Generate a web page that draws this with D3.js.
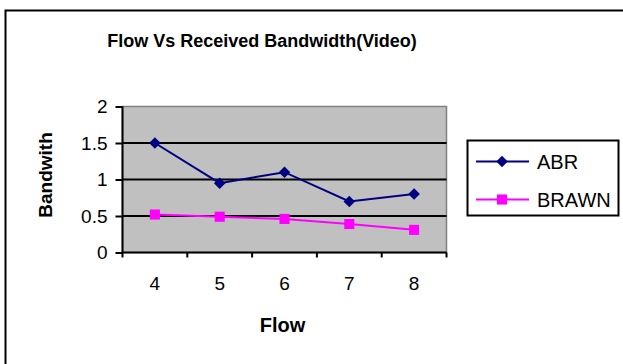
<!DOCTYPE html>
<html>
<head>
<meta charset="utf-8">
<script src="https://cdn.jsdelivr.net/npm/d3@7"></script>
<style>
  body { margin: 0; background: #fff; }
  text { font-family: "Liberation Sans", Arial, sans-serif; }
</style>
</head>
<body>
<div id="chart"></div>
<script>
// data
const flows = ["4", "5", "6", "7", "8"];
const abr = [1.5, 0.95, 1.1, 0.7, 0.8];
const brawn = [0.52, 0.49, 0.46, 0.39, 0.31];
const yTicks = [0, 0.5, 1, 1.5, 2];

const W = 623, H = 364;
const plot = {left: 122.5, top: 106.5, right: 446.5, bottom: 252.5};

const svg = d3.select("#chart").append("svg")
  .attr("width", W)
  .attr("height", H);

// outer chart border (right/bottom run off the picture)
svg.append("rect")
  .attr("x", 5.5).attr("y", 10.5)
  .attr("width", 700).attr("height", 400)
  .attr("fill", "#fff")
  .attr("stroke", "#000")
  .attr("stroke-width", 2);

svg.append("text")
  .attr("x", 262).attr("y", 47)
  .attr("text-anchor", "middle")
  .attr("font-size", 18).attr("font-weight", "bold")
  .text("Flow Vs Received Bandwidth(Video)");

const x = d3.scaleBand()
  .domain(flows)
  .range([plot.left, plot.right]);

const y = d3.scaleLinear()
  .domain([0, 2])
  .range([plot.bottom, plot.top]);

// plot area
svg.append("rect")
  .attr("x", plot.left).attr("y", plot.top)
  .attr("width", plot.right - plot.left)
  .attr("height", plot.bottom - plot.top)
  .attr("fill", "#c0c0c0")
  .attr("stroke", "#808080")
  .attr("stroke-width", 1.5);

// gridlines
svg.append("g")
  .selectAll("line")
  .data(yTicks.filter(d => d > 0 && d < 2))
  .join("line")
  .attr("x1", plot.left).attr("x2", plot.right)
  .attr("y1", d => y(d)).attr("y2", d => y(d))
  .attr("stroke", "#000")
  .attr("stroke-width", 2);

// y axis
const yAxis = svg.append("g")
  .attr("transform", "translate(" + plot.left + ",0)")
  .call(d3.axisLeft(y).tickValues(yTicks).tickSize(7).tickFormat(d3.format("")));
yAxis.select(".domain").attr("stroke", "#000").attr("stroke-width", 2).attr("d", "M0," + plot.top + "V" + plot.bottom);
yAxis.selectAll(".tick line").attr("stroke", "#000").attr("stroke-width", 2);
yAxis.selectAll(".tick text")
  .attr("font-size", 19).attr("font-family", "Liberation Sans, Arial, sans-serif")
  .attr("fill", "#000").attr("x", -15);

// x axis: ticks at band boundaries, labels at centers
const xAxis = svg.append("g")
  .attr("transform", "translate(0," + plot.bottom + ")");
xAxis.append("line")
  .attr("x1", plot.left).attr("x2", plot.right)
  .attr("stroke", "#000").attr("stroke-width", 2);
const bounds = flows.map(f => x(f)).concat([x(flows[flows.length - 1]) + x.bandwidth()]);
xAxis.selectAll(".xt")
  .data(bounds)
  .join("line")
  .attr("class", "xt")
  .attr("x1", d => d).attr("x2", d => d)
  .attr("y1", 0).attr("y2", 5)
  .attr("stroke", "#000").attr("stroke-width", 2);
xAxis.selectAll(".xl")
  .data(flows)
  .join("text")
  .attr("class", "xl")
  .attr("x", d => x(d) + x.bandwidth() / 2)
  .attr("y", 37.5)
  .attr("text-anchor", "middle")
  .attr("font-size", 19)
  .text(d => d);

svg.append("text")
  .attr("x", 282.5).attr("y", 332)
  .attr("text-anchor", "middle")
  .attr("font-size", 20).attr("font-weight", "bold")
  .text("Flow");

svg.append("text")
  .attr("transform", "translate(52,175) rotate(-90)")
  .attr("text-anchor", "middle")
  .attr("font-size", 19).attr("font-weight", "bold")
  .text("Bandwith");

const cx = d => x(d) + x.bandwidth() / 2;
const line = d3.line().x(d => cx(d[0])).y(d => y(d[1]));

const series = [
  {name: "ABR", values: abr, color: "#000080", shape: d3.symbolDiamond2, size: 85},
  {name: "BRAWN", values: brawn, color: "#ff00ff", shape: d3.symbolSquare2, size: 130}
];

series.forEach(s => {
  const pts = flows.map((f, i) => [f, s.values[i]]);
  svg.append("path")
    .datum(pts)
    .attr("d", line)
    .attr("fill", "none")
    .attr("stroke", s.color)
    .attr("stroke-width", 2);
  svg.append("g")
    .selectAll("path")
    .data(pts)
    .join("path")
    .attr("transform", d => "translate(" + cx(d[0]) + "," + y(d[1]) + ")")
    .attr("d", d3.symbol().type(s.shape).size(s.size))
    .attr("fill", s.color);
});

// legend
const lg = svg.append("g");
lg.append("rect")
  .attr("x", 467.5).attr("y", 140.5)
  .attr("width", 151).attr("height", 75)
  .attr("fill", "#fff").attr("stroke", "#000").attr("stroke-width", 2);
series.forEach((s, i) => {
  const ly = 161.5 + i * 38;
  lg.append("line")
    .attr("x1", 476).attr("x2", 529)
    .attr("y1", ly).attr("y2", ly)
    .attr("stroke", s.color).attr("stroke-width", 2);
  lg.append("path")
    .attr("transform", "translate(502," + ly + ")")
    .attr("d", d3.symbol().type(s.shape).size(s.size))
    .attr("fill", s.color);
  lg.append("text")
    .attr("x", 537).attr("y", ly + 7.5)
    .attr("font-size", 20)
    .text(s.name);
});
</script>
</body>
</html>
